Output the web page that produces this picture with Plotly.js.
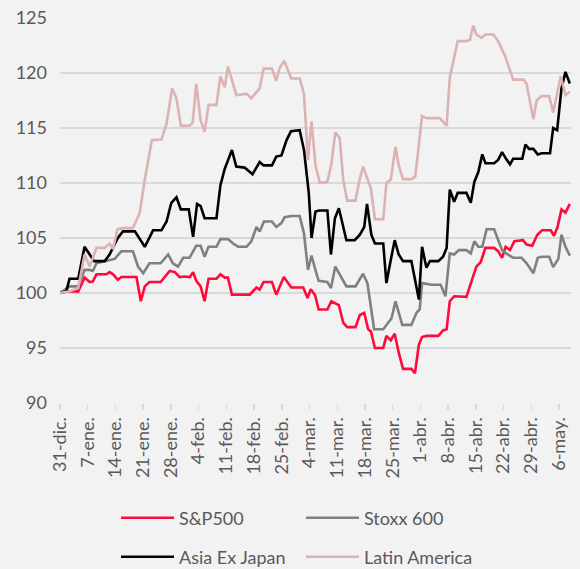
<!DOCTYPE html>
<html>
<head>
<meta charset="utf-8">
<script src="https://cdn.plot.ly/plotly-3.0.1.min.js"></script>
<style>html,body{margin:0;padding:0;background:#f2f2f2;}#chart{width:580px;height:569px;}</style>
</head>
<body>
<div id="chart"></div>
<script>
// x = days since 31-dic
const tickDays = [0,7,14,21,28,35,42,49,56,63,70,77,84,91,98,105,112,119,126];
const tickLabels = ["31-dic.","7-ene.","14-ene.","21-ene.","28-ene.","4-feb.","11-feb.","18-feb.","25-feb.","4-mar.","11-mar.","18-mar.","25-mar.","1-abr.","8-abr.","15-abr.","22-abr.","29-abr.","6-may."];

const spX = [0,2,4.6,6.2,7.5,8.3,9.2,11.7,12.5,13.4,14.6,15.5,19.3,20.4,21.4,22.6,25.4,27.7,29,30.2,31.5,32.8,33.6,34.4,35.5,36.5,37.5,39.5,40.5,41.6,42.4,43.4,47.9,49.6,50.4,51.4,53.5,54.6,56.5,58.4,61.4,62.5,63.3,64.4,65.3,67.5,68.5,69.5,70.4,71.5,72.5,74.6,75.7,76.8,77.8,78.5,79.5,81.6,82.4,83.5,84.5,85.5,86.6,88.7,89.6,90.6,91.4,92.5,95.5,96.7,97.6,98.4,99.5,102.6,103.9,105.1,106.2,107.4,109.6,110.6,111.6,112.5,113.6,114.7,116.9,117.8,119.2,120.5,121.7,123.9,124.7,125.6,126.6,127.6,128.7];
const spY = [100,100.15,100.15,101.4,101.0,101.05,101.7,101.7,101.9,101.7,101.2,101.45,101.45,99.25,100.6,101.0,101.0,102.0,101.9,101.45,101.5,101.45,101.9,101.1,100.6,99.25,101.3,101.3,101.7,101.4,101.4,99.85,99.85,100.5,100.3,101.0,101.0,99.85,101.45,100.5,100.5,99.55,100.35,99.8,98.5,98.5,99.25,99.1,98.9,97.3,96.9,96.9,98.0,98.2,96.7,96.5,95.0,95.0,96.1,95.7,96.3,94.6,93.1,93.1,92.7,95.3,96.0,96.1,96.1,96.6,96.7,99.25,99.7,99.65,101.2,102.4,102.8,104.1,104.1,103.8,103.2,104.2,103.9,104.7,104.8,104.4,104.3,105.3,105.7,105.7,105.2,106.0,107.6,107.3,108.1];

const stX = [0,2.4,4.6,6.2,7.5,8.3,9.2,12.5,13.8,15.5,18.4,19.7,21.0,22.6,25.4,27.3,28.5,29.8,31.1,32.7,34.4,35.5,36.5,37.5,39.5,40.5,42.4,43.7,45.0,47.1,48.3,49.6,50.4,51.5,53.5,54.6,55.9,56.7,58.4,60.5,61.6,62.6,63.5,64.7,65.3,67.5,68.4,69.5,72.3,74.6,76.5,77.6,79.3,81.6,83.7,84.7,86.4,88.7,90.0,90.8,91.4,93.8,96.1,97.3,98.4,99.5,100.7,102.6,103.7,104.6,105.6,106.6,107.7,109.6,110.6,111.6,112.6,114.4,116.5,117.8,119.5,120.6,121.6,123.5,124.5,125.8,126.6,127.6,128.7];
const stY = [100,100.6,100.6,102.1,102.1,102.0,102.7,103.0,103.1,103.8,103.8,102.4,101.8,102.7,102.7,103.5,102.7,102.4,103.2,103.2,104.3,104.3,103.3,104.2,104.2,104.9,104.9,104.5,104.2,104.2,104.7,106.0,105.6,106.5,106.5,106.0,106.35,106.9,107.0,107.0,105.4,102.1,103.4,101.8,101.1,101.0,100.45,102.4,100.6,100.6,101.75,100.9,96.7,96.7,97.7,99.25,97.1,97.1,98.2,98.5,100.9,100.75,100.75,99.7,103.6,103.5,103.9,103.9,103.6,104.7,104.2,104.2,105.8,105.8,104.8,103.9,103.6,103.2,103.2,102.7,101.8,103.2,103.3,103.3,102.35,103.1,105.3,104.2,103.4];

const asX = [0,1.6,2.4,4.6,6.2,7.5,8.6,11.3,12.5,14.6,15.9,18.9,21.4,23.5,25.6,26.9,28.1,29.4,30.5,32.5,33.6,34.6,35.5,36.5,39.5,40.5,41.6,43.4,44.5,46.6,48.6,50.4,51.4,53.5,54.6,55.9,57.2,58.3,60.5,61.6,62.8,63.5,64.5,65.4,67.5,68.4,69.4,70.4,72.3,74.4,75.7,76.8,77.5,78.6,79.5,81.6,82.4,83.5,84.5,85.5,86.6,88.7,89.6,90.6,91.4,92.5,93.4,95.5,96.7,97.6,98.4,99.5,100.4,102.6,103.7,104.6,105.6,106.6,107.4,109.6,110.6,111.6,112.6,113.6,114.4,116.7,117.5,118.4,119.5,120.6,121.6,123.7,124.5,125.5,126.6,127.6,128.7];
const asY = [100,100.15,101.3,101.3,104.2,103.5,102.9,102.9,103.5,105.0,105.6,105.6,104.2,105.7,105.7,106.5,108.2,108.7,107.6,107.6,105.1,108.1,107.9,106.8,106.8,109.8,111.3,113.0,111.5,111.4,110.8,111.9,111.6,111.6,112.4,112.5,113.9,114.7,114.8,113.0,109.1,105.0,107.4,107.5,107.5,103.5,106.8,107.7,104.8,104.8,105.3,106.0,108.1,105.3,104.5,104.5,100.9,103.0,104.8,103.5,102.9,102.9,101.1,99.4,104.2,102.3,102.9,102.9,103.3,104.1,109.4,108.3,109.1,109.1,108.2,110.1,111.0,112.6,111.8,111.8,112.1,112.8,112.2,111.7,112.2,112.2,113.5,113.1,113.1,112.6,112.7,112.7,115.0,114.8,118.6,120.1,119.05];

const laX = [0,2.4,4.6,6.2,7.5,9.2,11.3,12.5,13.4,14.5,15.9,18.4,20.1,21.4,23.2,25.6,26.9,28.3,29.4,30.5,32.7,33.5,34.4,35.5,36.5,37.5,39.5,40.5,41.6,42.4,44.5,47.1,48.3,50.4,51.4,53.5,54.6,55.5,56.6,58.4,60.5,61.6,62.6,63.5,64.5,65.6,67.5,68.5,69.5,70.6,71.5,72.5,74.6,75.5,76.5,78.5,79.5,81.6,82.4,83.5,84.7,85.5,86.6,88.7,89.7,90.6,91.4,92.5,95.9,97.6,98.4,100.4,102.6,103.5,104.3,105.1,106.4,107.4,109.4,110.6,112.3,114.4,117.0,117.8,119.5,120.3,121.6,123.5,124.5,126.4,127.6,128.7];
const laY = [100,100.15,100.45,103.5,102.4,104.1,104.1,104.5,104.0,105.8,105.9,105.9,107.25,110.3,113.9,113.95,115.4,118.6,117.7,115.2,115.2,115.5,119.0,115.7,114.65,117.1,117.1,119.7,118.7,120.6,118.0,118.1,117.7,118.6,120.4,120.4,119.3,120.5,121.1,119.5,119.5,118.1,112.1,115.6,111.6,110.0,110.1,111.7,114.6,114.1,110.3,108.4,108.4,110.1,111.5,109.5,106.7,106.7,110.0,110.3,113.3,111.6,110.35,110.35,110.6,113.7,116.1,115.9,115.9,115.2,119.6,122.9,122.9,123.0,124.3,123.5,123.2,123.5,123.5,122.9,121.6,119.4,119.4,119.0,115.8,117.5,117.9,117.9,116.4,119.7,118.0,118.3];

const names = ["S&P500","Stoxx 600","Asia Ex Japan","Latin America"];
const colors = ["#ff0a3a","#808080","#000000","#dcb2b2"];
const legendIds = ["legend","legend","legend2","legend2"];
const xs = [spX, stX, asX, laX];
const ys = [spY, stY, asY, laY];

const traces = names.map((n,i)=>({
  type:"scatter", mode:"lines", name:n, x:xs[i], y:ys[i], legend:legendIds[i],
  line:{color:colors[i], width:2.6}
}));

const font = {family:"Lato, 'Open Sans', sans-serif", color:"#595959"};
function legendCfg(yPos){
  return {
    orientation:"h", xref:"container", yref:"container",
    x:0.2, xanchor:"left", y:yPos, yanchor:"middle",
    entrywidth:117, entrywidthmode:"pixels", itemwidth:53,
    font:Object.assign({size:18}, font), bgcolor:"rgba(0,0,0,0)"
  };
}
const layout = {
  width:580, height:569,
  paper_bgcolor:"#f2f2f2", plot_bgcolor:"#f2f2f2",
  margin:{l:60, r:9, t:18, b:166, autoexpand:false},
  font:Object.assign({size:17}, font),
  showlegend:true,
  xaxis:{
    range:[0,129], tickmode:"array", tickvals:tickDays, ticktext:tickLabels,
    tickangle:-90, tickfont:Object.assign({size:18}, font), automargin:false,
    showgrid:false, zeroline:false, showline:false,
    ticks:"outside", ticklen:6, tickcolor:"#d9d9d9", tickwidth:1.5
  },
  yaxis:{
    range:[90,125], tickvals:[90,95,100,105,110,115,120,125], automargin:false,
    tickfont:Object.assign({size:18}, font),
    showgrid:true, gridcolor:"#d9d9d9", gridwidth:2, zeroline:false,
    showline:false, ticks:"", ticklabelstandoff:12
  },
  legend:legendCfg(0.0896),
  legend2:legendCfg(0.0211)
};
Plotly.newPlot("chart", traces, layout, {displayModeBar:false, staticPlot:true});
</script>
</body>
</html>
